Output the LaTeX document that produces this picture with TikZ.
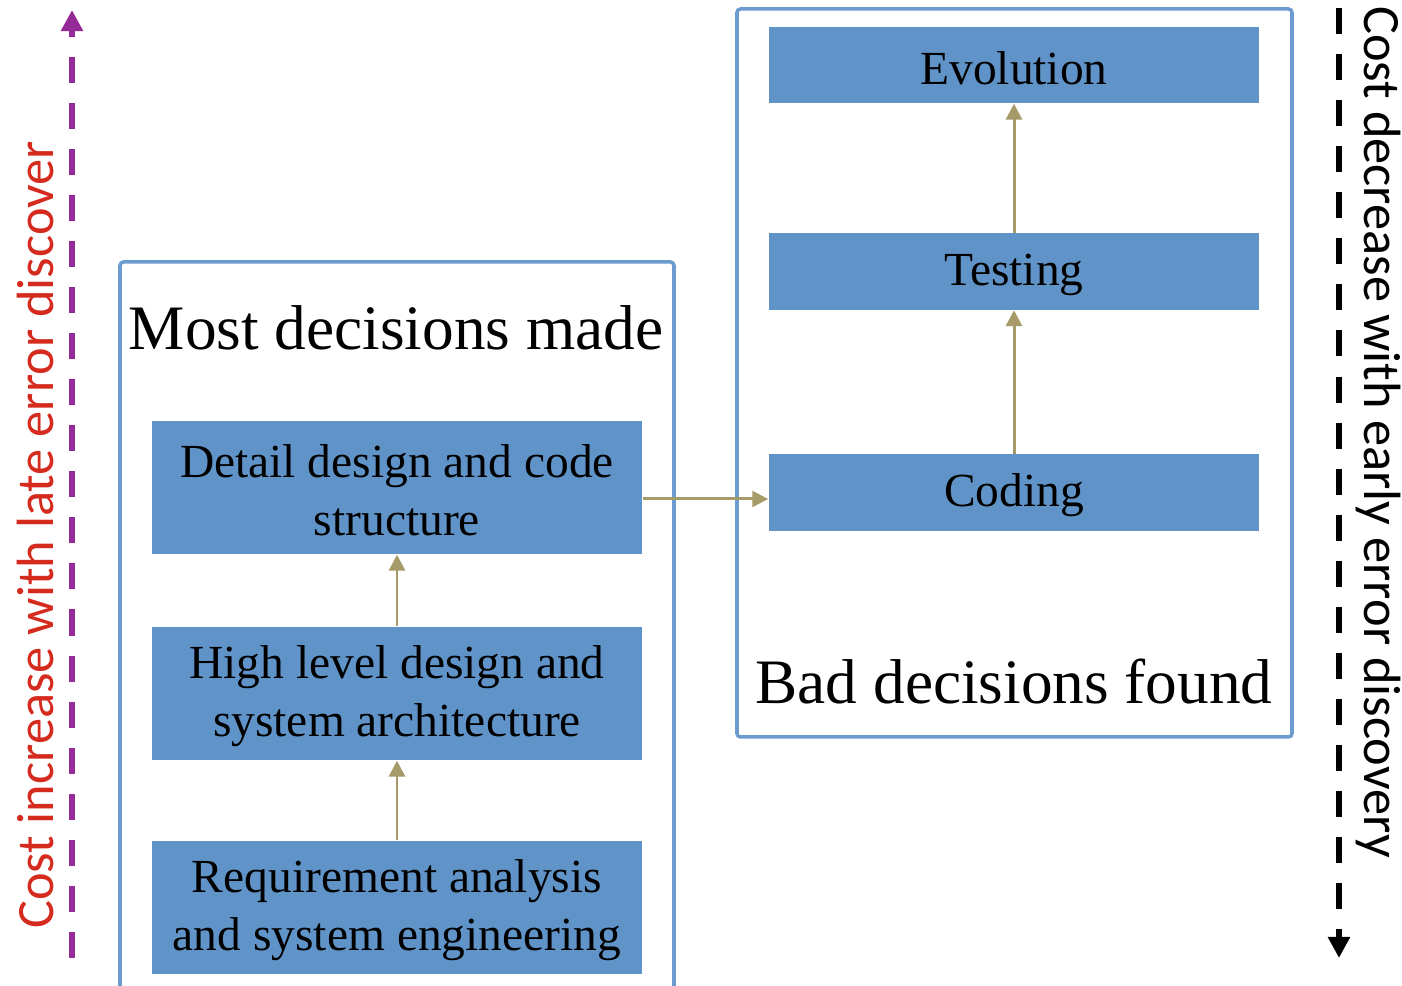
\documentclass[tikz,border=0pt]{standalone}
\usepackage{fontspec}
\setmainfont{Liberation Serif}
\newfontfamily\sidefont{Carlito}
\usetikzlibrary{arrows.meta,
	positioning}

\definecolor{stageblue}{RGB}{96,148,200}
\definecolor{frameblue}{RGB}{108,155,208}
\definecolor{olive}{RGB}{165,154,104}
\definecolor{costred}{RGB}{213,43,30}
\definecolor{costpurple}{RGB}{149,43,150}

\newcommand{\stagetext}[1]{\raisebox{-0.03cm}[\height][\depth]{#1}}

\tikzset{
	stage/.style={fill=stageblue, minimum width=4.9cm, inner sep=0pt,
		align=center, font=\fontsize{13.5}{16.5}\selectfont},
	frame/.style={draw=frameblue, line width=1pt, rounded corners=1pt},
	flow/.style={draw=olive, line width=0.85pt, -{Triangle[length=4.5pt,width=4.5pt]}},
	cost/.style={line width=1.6pt, dash pattern=on 7.4pt off 5.7pt,
		-{Triangle[length=6pt,width=6pt]}}
}

\begin{document}
\begin{tikzpicture}[x=0.01cm,y=-0.01cm]

        \clip (0,0) rectangle (1402,986);

        % frames
        \draw[frame] (120,1000)--(120,262)--(674,262)--(674,1000);
        \draw[frame] (737,9) rectangle (1292,737);
        \node (made) at(396,328) {\fontsize{18}{21}\selectfont Most decisions made};
        \node (found) at(1014,682) {\fontsize{18}{21}\selectfont Bad decisions found};

        % early stages
        \node[stage, minimum height=1.33cm] (detail) at(397,487.5) {\stagetext{\parbox{4.9cm}{\centering Detail design and code\\structure}}};
        \node[stage, minimum height=1.33cm] (hld) at(397,693.5) {\stagetext{\parbox{4.9cm}{\centering High level design and\\system architecture}}};
        \node[stage, minimum height=1.33cm] (req) at(397,907.5) {\stagetext{\parbox{4.9cm}{\centering Requirement analysis\\and system engineering}}};

        % late stages
        \node[stage, minimum height=0.76cm] (evol) at(1014,65) {\stagetext{Evolution}};
        \node[stage, minimum height=0.76cm] (testing) at(1014,271.5) {\stagetext{Testing}};
        \node[stage, minimum height=0.76cm] (coding) at(1014,492.5) {\stagetext{Coding}};

        \coordinate (hop) at([yshift=-0.065cm]coding.west);
        \draw[flow] (req)--(hld);
        \draw[flow] (hld)--(detail);
        \draw[flow] (detail.east |- hop)--(hop);
        \draw[flow] (coding)--(testing);
        \draw[flow] (testing)--(evol);

        % cost arrows
        \coordinate (lowL) at(72,958);
        \coordinate (topL) at(72,10);
        \coordinate (topR) at(1339,8);
        \coordinate (lowR) at(1339,958);
        \draw[cost, costpurple] (lowL)--(topL);
        \draw[cost, black, line width=1.5pt] (topR)--(lowR);
        \node[rotate=90, text=costred, font=\sidefont\fontsize{14.9}{18}\selectfont] (late) at(36,535) {Cost increase with late error discover};
        \node[rotate=-90, font=\sidefont\fontsize{14.9}{18}\selectfont] (early) at(1378,432) {Cost decrease with early error discovery};

\end{tikzpicture}
\end{document}
